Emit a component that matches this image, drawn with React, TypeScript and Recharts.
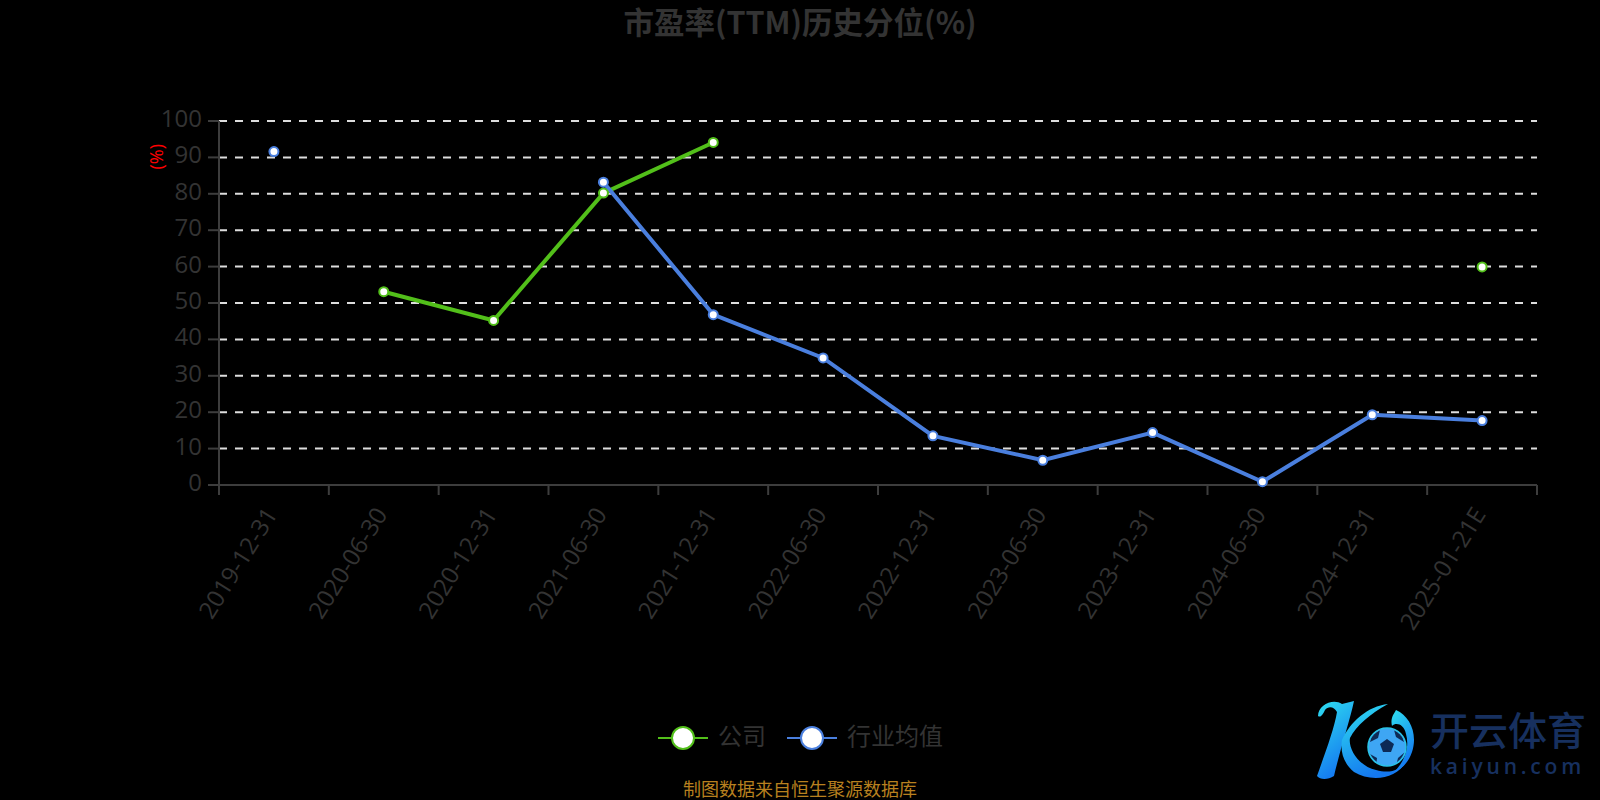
import { LineChart, Line, XAxis, YAxis, CartesianGrid, Label } from 'recharts'

const categories = [
  '2019-12-31', '2020-06-30', '2020-12-31', '2021-06-30', '2021-12-31', '2022-06-30',
  '2022-12-31', '2023-06-30', '2023-12-31', '2024-06-30', '2024-12-31', '2025-01-21E',
]
const companyValues = [null, 53.1, 45.2, 80.2, 94.1, null, null, null, null, null, null, 59.9]
const industryValues = [91.6, null, null, 83.2, 46.8, 34.9, 13.5, 6.8, 14.4, 0.9, 19.3, 17.7]
const yTicks = [0, 10, 20, 30, 40, 50, 60, 70, 80, 90, 100]

const GREEN = '#52bf1a'
const BLUE = '#4a7fde'
const AXIS = '#3d3d3d'
const FONT = '"Open Sans", "Noto Sans CJK SC", sans-serif'
const CJK = '"Noto Sans CJK SC", "Open Sans", sans-serif'

const CHART_W = 1600
const MARGIN_RIGHT = 63
const Y_AXIS_W = 219
const BAND = (CHART_W - MARGIN_RIGHT - Y_AXIS_W) / categories.length

const data = categories.map((date, i) => ({ date, company: companyValues[i], industry: industryValues[i] }))

// ticks sit on the band edges, labels on the band centre
function DateTick({ x, y, index, payload }: any) {
  const axisY = y - 8
  const labelX = x - 4
  return (
    <g>
      <line x1={x - BAND / 2} x2={x - BAND / 2} y1={axisY} y2={axisY + 10} stroke={AXIS} strokeWidth={2} />
      {index === categories.length - 1 && (
        <line x1={x + BAND / 2} x2={x + BAND / 2} y1={axisY} y2={axisY + 10} stroke={AXIS} strokeWidth={2} />
      )}
      <text
        x={labelX}
        y={y + 26}
        textAnchor="end"
        fontSize={24}
        fill="#333"
        transform={`rotate(-58 ${labelX} ${y + 16})`}
      >
        {payload.value}
      </text>
    </g>
  )
}

function ValueTick({ x, y, payload }: any) {
  return (
    <text x={x - 4} y={y + 6} textAnchor="end" fontSize={24} fill="#333">
      {payload.value}
    </text>
  )
}

function LegendItem({ x, color, label }: { x: number; color: string; label: string }) {
  return (
    <div style={{ position: 'absolute', left: x, top: 718, height: 40, display: 'flex', alignItems: 'center' }}>
      <svg width={50} height={40} style={{ display: 'block' }}>
        <line x1={0} x2={50} y1={20} y2={20} stroke={color} strokeWidth={2} />
        <circle cx={25} cy={20} r={11} fill="#fff" stroke={color} strokeWidth={2} />
      </svg>
      <span style={{ marginLeft: 10, position: 'relative', top: -4, fontSize: 24, color: '#333', fontFamily: CJK, whiteSpace: 'nowrap' }}>{label}</span>
    </div>
  )
}

// rough redraw of the watermark in the lower right corner
function Watermark() {
  return (
    <div style={{ position: 'absolute', left: 1310, top: 690, width: 290, height: 100 }}>
      <svg width={110} height={100} style={{ position: 'absolute', left: 0, top: 0 }}>
        <defs>
          <linearGradient id="kaiyunK" x1="0" y1="0" x2="0.4" y2="1">
            <stop offset="0%" stopColor="#2fe0f0" />
            <stop offset="100%" stopColor="#1478f0" />
          </linearGradient>
          <clipPath id="kaiyunBall">
            <circle cx={77} cy={57} r={18} />
          </clipPath>
        </defs>
        <path d="M8 26 C8 14 24 8 32 14 L44 11 C40 30 30 60 24 86 C18 90 10 90 7 86 C14 66 24 40 27 22 C24 16 18 16 15 20 C13 24 11 28 8 26 Z" fill="url(#kaiyunK)" />
        <path d="M78 14 C60 24 46 36 40 48 C38 58 48 76 66 80 C80 84 90 80 96 72 C86 90 60 92 44 82 C34 74 30 62 32 50 C40 32 58 16 78 14 Z" fill="url(#kaiyunK)" />
        <path d="M86 20 C100 26 108 44 102 62 C98 74 90 80 84 82 C94 72 100 58 96 44 C94 34 86 32 82 36 C80 28 84 24 86 20 Z" fill="url(#kaiyunK)" />
        <circle cx={77} cy={57} r={19} fill="#3ea6f4" stroke="#29c4e8" strokeWidth={1.5} />
        <g clipPath="url(#kaiyunBall)" fill="#0d2a55">
          <polygon points="77,49 84,54 81,62 73,62 70,54" />
          <polygon points="62,44 70,40 68,48 60,52" />
          <polygon points="84,40 92,44 94,52 86,47" />
          <polygon points="60,64 67,68 66,76 58,72" />
          <polygon points="88,68 95,62 94,72 86,76" />
        </g>
      </svg>
      <div style={{ position: 'absolute', left: 120, top: 16, fontSize: 39, lineHeight: '44px', fontWeight: 500, color: '#17305f', fontFamily: CJK, whiteSpace: 'nowrap' }}>开云体育</div>
      <div style={{ position: 'absolute', left: 120, top: 62, fontSize: 21, lineHeight: '28px', letterSpacing: 3.8, fontWeight: 600, color: '#17305f', fontFamily: FONT, whiteSpace: 'nowrap' }}>kaiyun.com</div>
    </div>
  )
}

export default function App() {
  return (
    <div style={{ position: 'absolute', left: 0, top: 0, width: 1600, height: 800, background: '#000', overflow: 'hidden' }}>
      <LineChart
        width={CHART_W}
        height={800}
        data={data}
        margin={{ top: 121, right: MARGIN_RIGHT, bottom: 115, left: 0 }}
        style={{ fontFamily: FONT }}
      >
        <CartesianGrid horizontal vertical={false} stroke="#ddd" strokeWidth={2} strokeDasharray="8 8" />
        <XAxis
          dataKey="date"
          scale="band"
          height={200}
          interval={0}
          stroke={AXIS}
          strokeWidth={2}
          tickLine={false}
          tick={<DateTick />}
        />
        <YAxis
          width={Y_AXIS_W}
          domain={[0, 100]}
          ticks={yTicks}
          interval={0}
          tickSize={11}
          stroke={AXIS}
          strokeWidth={2}
          tick={<ValueTick />}
        >
          <Label value="(%)" angle={-90} position="insideTopRight" offset={0} dx={-69} dy={23} fill="#f00" fontSize={18} />
        </YAxis>
        <Line
          dataKey="company"
          stroke={GREEN}
          strokeWidth={4}
          dot={{ r: 4.5, fill: '#fff', stroke: GREEN, strokeWidth: 2 }}
          activeDot={false}
          isAnimationActive={false}
        />
        <Line
          dataKey="industry"
          stroke={BLUE}
          strokeWidth={4}
          dot={{ r: 4.5, fill: '#fff', stroke: BLUE, strokeWidth: 2 }}
          activeDot={false}
          isAnimationActive={false}
        />
      </LineChart>

      <div style={{ position: 'absolute', left: 0, top: 0, width: 1600, textAlign: 'center', fontSize: 30.5, lineHeight: '42px', fontWeight: 700, color: '#333', fontFamily: CJK }}>
        市盈率(TTM)历史分位(%)
      </div>
      <LegendItem x={658} color={GREEN} label="公司" />
      <LegendItem x={787} color={BLUE} label="行业均值" />
      <div style={{ position: 'absolute', left: 0, top: 776, width: 1600, textAlign: 'center', fontSize: 18, lineHeight: '24px', color: '#b8801f', fontFamily: CJK }}>
        制图数据来自恒生聚源数据库
      </div>
      <Watermark />
    </div>
  )
}
